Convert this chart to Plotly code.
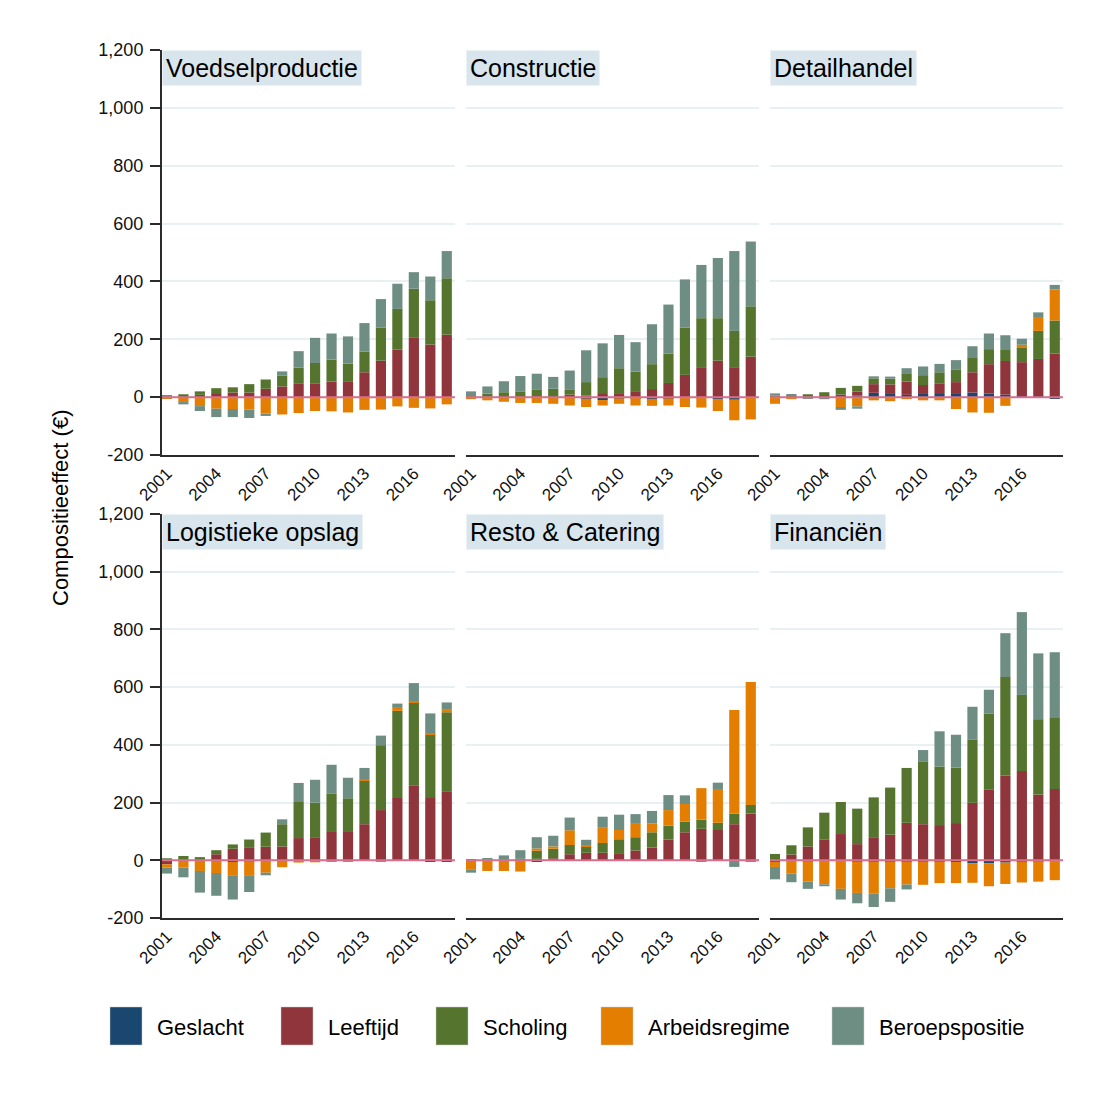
import plotly.graph_objects as go

# ---- data -------------------------------------------------------------
years = list(range(2001, 2019))
tick_years = [2001, 2004, 2007, 2010, 2013, 2016]
y_ticks = [-200, 0, 200, 400, 600, 800, 1000, 1200]
y_tick_labels = ["-200", "0", "200", "400", "600", "800", "1,000", "1,200"]

components = ["Geslacht", "Leeftijd", "Scholing", "Arbeidsregime", "Beroepspositie"]
colors = ["#1a476f", "#90353b", "#55752f", "#e37e00", "#6e8e84"]

sectors = ["Voedselproductie", "Constructie", "Detailhandel",
           "Logistieke opslag", "Resto & Catering", "Financiën"]

# Voedselproductie
voedsel_geslacht = [0, 0, 0, 0, 0, 0, 0, 0, 0, 0, 0, 0, 0, 0, 0, 0, 0, 0]
voedsel_leeftijd = [0, 0, 8, 14, 16, 16, 29, 37, 48, 48, 54, 55, 86, 126, 164, 207, 182, 216]
voedsel_scholing = [2, 10, 12, 17, 18, 29, 32, 38, 54, 70, 76, 61, 72, 114, 141, 168, 153, 195]
voedsel_arbeid = [-3, -17, -31, -40, -41, -43, -57, -60, -55, -48, -49, -53, -44, -43, -32, -37, -39, -25]
voedsel_beroep = [5, -8, -17, -29, -28, -29, -8, 14, 57, 87, 90, 94, 98, 99, 87, 57, 82, 94]

# Constructie
constr_geslacht = [0, 0, 0, 0, 0, 0, 0, -5, -10, -4, -3, -6, -4, -2, -2, -6, -9, 0]
constr_leeftijd = [0, 0, 0, 0, 2, 0, 9, 5, 14, 11, 18, 28, 49, 77, 101, 126, 101, 140]
constr_scholing = [3, 12, 17, 20, 23, 29, 16, 47, 55, 89, 70, 86, 101, 163, 172, 147, 128, 174]
constr_arbeid = [-7, -11, -16, -20, -20, -23, -29, -29, -19, -19, -26, -24, -25, -32, -34, -42, -71, -77]
constr_beroep = [17, 25, 38, 53, 56, 41, 67, 110, 117, 115, 102, 138, 170, 167, 184, 208, 276, 224]

# Detailhandel
detail_geslacht = [0, 0, 0, 0, 0, 5, 15, 11, 8, 11, 14, 11, 16, 13, 9, 3, 2, -3]
detail_leeftijd = [0, 0, 0, 3, 9, 14, 30, 33, 46, 31, 34, 41, 70, 101, 116, 118, 130, 151]
detail_scholing = [5, 5, 10, 14, 23, 20, 20, 20, 26, 34, 38, 44, 52, 52, 38, 49, 97, 114]
detail_arbeid = [-23, -7, 0, -2, -34, -32, -11, -14, -7, -11, -11, -41, -53, -54, -30, 11, 48, 107]
detail_beroep = [8, 6, -5, -5, -10, -8, 7, 7, 20, 30, 29, 32, 38, 54, 51, 21, 16, 16]

# Logistieke opslag
logist_geslacht = [0, 0, 0, 0, -6, -3, 0, 0, 0, 0, 0, 0, 0, 0, 1, 1, -3, -3]
logist_leeftijd = [-14, 0, 0, 21, 40, 43, 47, 48, 77, 80, 101, 101, 125, 174, 215, 259, 219, 237]
logist_scholing = [7, 15, 11, 14, 15, 29, 49, 77, 125, 120, 131, 114, 151, 225, 302, 286, 217, 276]
logist_arbeid = [-11, -25, -37, -44, -48, -51, -43, -24, -8, -7, -3, -3, 5, -4, 10, 5, 4, 11]
logist_beroep = [-21, -34, -75, -79, -82, -56, -9, 17, 66, 79, 99, 71, 39, 33, 15, 63, 69, 23]

# Resto & Catering
resto_geslacht = [0, 0, 0, 0, -3, 0, 0, 0, 0, 0, 0, 0, 0, 0, 0, 0, 0, 0]
resto_leeftijd = [0, 0, 0, 0, 5, 7, 21, 26, 26, 22, 34, 44, 72, 97, 109, 105, 125, 162]
resto_scholing = [3, 0, 0, 5, 28, 33, 32, 21, 34, 51, 46, 53, 48, 37, 32, 25, 37, 30]
resto_arbeid = [-33, -37, -37, -39, 8, 8, 51, 6, 55, 32, 49, 31, 54, 61, 109, 117, 359, 426]
resto_beroep = [-10, 8, 17, 30, 39, 37, 44, 18, 36, 53, 31, 43, 52, 30, -3, 22, -23, -3]

# Financiën
finan_geslacht = [-5, 0, -3, 0, 0, -4, -4, -4, -4, -4, -4, -6, -10, -10, -8, -4, -3, 0]
finan_leeftijd = [3, 20, 48, 71, 91, 56, 80, 89, 130, 125, 122, 129, 199, 246, 294, 309, 228, 247]
finan_scholing = [19, 32, 66, 94, 111, 123, 138, 163, 190, 218, 203, 192, 220, 263, 341, 264, 261, 246]
finan_arbeid = [-18, -46, -71, -83, -99, -109, -112, -93, -80, -81, -75, -73, -68, -80, -74, -73, -71, -69]
finan_beroep = [-43, -30, -25, -7, -37, -36, -46, -47, -17, 39, 122, 114, 113, 82, 152, 287, 228, 228]

panel_series = [
    [voedsel_geslacht, voedsel_leeftijd, voedsel_scholing, voedsel_arbeid, voedsel_beroep],
    [constr_geslacht, constr_leeftijd, constr_scholing, constr_arbeid, constr_beroep],
    [detail_geslacht, detail_leeftijd, detail_scholing, detail_arbeid, detail_beroep],
    [logist_geslacht, logist_leeftijd, logist_scholing, logist_arbeid, logist_beroep],
    [resto_geslacht, resto_leeftijd, resto_scholing, resto_arbeid, resto_beroep],
    [finan_geslacht, finan_leeftijd, finan_scholing, finan_arbeid, finan_beroep],
]

# ---- layout geometry (pixels in a 1096 x 1102 canvas) -----------------
W, H = 1096, 1102
FONT = "Liberation Sans, Arial, Helvetica, sans-serif"
col_px = [(162, 455), (466, 759), (770, 1063)]
row_px = [(50, 455), (514, 918)]


def px_x(v):
    return v / W


def px_y(v):
    return 1 - v / H


fig = go.Figure()
layout_axes = {}
shapes = []
annotations = []

for p, sector in enumerate(sectors):
    r, c = divmod(p, 3)
    n = p + 1
    xa = "x" if n == 1 else f"x{n}"
    ya = "y" if n == 1 else f"y{n}"
    for comp, color, vals in zip(components, colors, panel_series[p]):
        fig.add_trace(go.Bar(
            x=years, y=vals, name=comp, marker_color=color,
            marker_line_width=0, width=0.62, showlegend=False,
            xaxis=xa, yaxis=ya,
        ))

    xkey = "xaxis" if n == 1 else f"xaxis{n}"
    ykey = "yaxis" if n == 1 else f"yaxis{n}"
    layout_axes[xkey] = dict(
        domain=[px_x(col_px[c][0]), px_x(col_px[c][1])],
        anchor=ya, range=[2000.7, 2018.5],
        tickmode="array", tickvals=tick_years, tickangle=-45,
        ticks="", showgrid=False, zeroline=False,
        showline=True, linecolor="#2b2b2b", linewidth=2,
        tickfont=dict(family=FONT, size=17, color="#111"),
        automargin=False,
    )
    first_col = c == 0
    layout_axes[ykey] = dict(
        domain=[px_y(row_px[r][1]), px_y(row_px[r][0])],
        anchor=xa, range=[-200, 1200],
        tickmode="array", tickvals=y_ticks, ticktext=y_tick_labels,
        showgrid=True, gridcolor="#e8f0f3", gridwidth=1.5,
        zeroline=False,
        showline=first_col, linecolor="#2b2b2b", linewidth=2,
        ticks="outside" if first_col else "", ticklen=10, tickwidth=1.5,
        tickcolor="#2b2b2b", ticklabelstandoff=3,
        showticklabels=first_col,
        tickfont=dict(family=FONT, size=18, color="#111"),
        automargin=False,
    )

    # reference line at zero, drawn over the bars
    shapes.append(dict(
        type="line", xref=f"{xa} domain", yref=ya,
        x0=0, x1=1, y0=0, y1=0,
        line=dict(color="#d8708f", width=2), layer="above",
    ))

    # panel header box
    annotations.append(dict(
        text=sector, xref=f"{xa} domain", yref=f"{ya} domain",
        x=0, y=1, xanchor="left", yanchor="top", showarrow=False,
        bgcolor="#d8e5ec", borderpad=3,
        font=dict(family=FONT, size=25, color="#000"),
    ))

# y-axis title
annotations.append(dict(
    text="Compositieeffect (€)", xref="paper", yref="paper",
    x=px_x(61), y=px_y(508), xanchor="center", yanchor="middle",
    textangle=-90, showarrow=False,
    font=dict(family=FONT, size=22, color="#000"),
))

# legend drawn as swatches with labels
legend_left_px = [110, 281, 436, 601, 832]
for comp, color, lx in zip(components, colors, legend_left_px):
    shapes.append(dict(
        type="rect", xref="paper", yref="paper",
        x0=px_x(lx), x1=px_x(lx + 32), y0=px_y(1045), y1=px_y(1007),
        fillcolor=color, line=dict(color="#c8c8c8", width=0.5),
    ))
    annotations.append(dict(
        text=comp, xref="paper", yref="paper",
        x=px_x(lx + 45), y=px_y(1027), xanchor="left", yanchor="middle",
        showarrow=False, font=dict(family=FONT, size=22, color="#000"),
    ))

fig.update_layout(
    width=W, height=H,
    margin=dict(l=0, r=0, t=0, b=0),
    paper_bgcolor="white", plot_bgcolor="white",
    barmode="relative", bargap=0.4,
    showlegend=False,
    shapes=shapes, annotations=annotations,
    **layout_axes,
)

fig.write_html("out.html")
